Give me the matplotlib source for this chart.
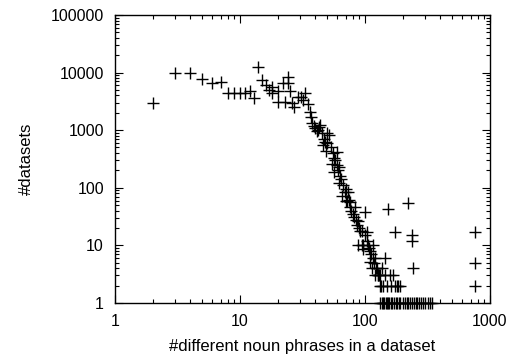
import numpy as np
import matplotlib
matplotlib.use("Agg")
from matplotlib import pyplot as plt
from matplotlib.ticker import LogLocator, NullFormatter, FixedLocator, FixedFormatter

plt.rcParams['font.family'] = ['Liberation Sans', 'DejaVu Sans']

# number of different noun phrases in a dataset -> number of datasets
# plateau part
plateau_x = [2, 3, 4, 5, 6, 7, 8, 9, 10, 11, 12, 13, 14, 15, 16, 17, 18, 18,
             20, 20, 22, 23, 24, 24, 25, 26, 27, 29, 31, 32, 33, 35, 36, 37,
             38, 39, 40]
plateau_y = [3000, 10000, 10000, 7600, 6700, 6900, 4500, 4500, 4500, 4500,
             4700, 3600, 12700, 7400, 6200, 5000, 4500, 5700, 4700, 3100,
             6500, 3100, 8300, 6700, 4700, 3000, 2500, 3800, 3700, 3400,
             4500, 2800, 2100, 1700, 1350, 1200, 1100]
# steep decline
decline_x = [41, 42, 43, 44, 45, 46, 47, 48, 49, 50, 50, 52, 53, 54, 55, 56,
             57, 58, 60, 60, 61, 62, 62, 63, 64, 66, 67, 69, 70, 71, 72, 73,
             74, 76, 76, 78, 80, 82, 83, 85, 86, 88, 88, 90, 92, 95, 95, 97,
             97, 100, 100, 103, 104, 106, 108, 110, 110, 112, 113, 115, 116,
             118, 120, 120]
decline_y = [950, 1000, 1150, 1250, 900, 560, 700, 620, 430, 900, 600, 830,
             500, 260, 400, 330, 190, 300, 420, 250, 200, 230, 120, 160, 140,
             72, 110, 85, 95, 60, 58, 85, 62, 57, 46, 40, 35, 31, 46, 28, 23,
             26, 10, 20, 18, 18, 10, 10, 8.5, 38, 15, 17, 12, 10, 9, 8, 5.2,
             7, 4, 6, 10, 5, 6, 3]
# tail
tail_x = [122, 124, 126, 128, 130, 132, 132, 135, 138, 140, 145, 145, 150,
          153, 158, 160, 167, 173, 173, 180, 185, 190]
tail_y = [4, 4, 3, 3, 3, 2, 3, 2, 4, 2, 6, 3, 2, 42, 3, 2, 3, 2, 17, 2, 2, 2]
# scattered outliers
outlier_x = [220, 237, 237, 240, 760, 760, 760]
outlier_y = [55, 15, 12, 4, 17, 5, 2]
# single-dataset counts along the bottom
single_x = [133, 136, 139, 142, 146, 149, 152, 156, 160, 165, 170, 176, 182,
            186, 192, 200, 208, 215, 222, 228, 236, 245, 255, 262, 270, 280,
            290, 300, 318, 330, 345]
single_y = [1, 1, 1, 1, 1, 1, 1, 1, 1, 1, 1, 1, 1, 1, 1, 1, 1, 1, 1, 1, 1,
            1, 1, 1, 1, 1, 1, 1, 1, 1, 1]

xs = plateau_x + decline_x + tail_x + outlier_x + single_x
ys = plateau_y + decline_y + tail_y + outlier_y + single_y

fig = plt.figure(figsize=(5.12, 3.56), dpi=100)
ax = fig.add_axes([0.2246, 0.149, 0.957 - 0.2246, 0.958 - 0.149])

ax.plot(xs, ys, linestyle='none', marker='+', color='black',
        markersize=9, markeredgewidth=1.0, clip_on=False)

ax.set_xscale('log')
ax.set_yscale('log')
ax.set_xlim(1, 1000)
ax.set_ylim(1, 100000)

xt = [1, 10, 100, 1000]
yt = [1, 10, 100, 1000, 10000, 100000]
ax.xaxis.set_major_locator(FixedLocator(xt))
ax.xaxis.set_major_formatter(FixedFormatter([str(v) for v in xt]))
ax.yaxis.set_major_locator(FixedLocator(yt))
ax.yaxis.set_major_formatter(FixedFormatter([str(v) for v in yt]))
ax.xaxis.set_minor_locator(LogLocator(base=10, subs=np.arange(2, 10)))
ax.yaxis.set_minor_locator(LogLocator(base=10, subs=np.arange(2, 10)))
ax.xaxis.set_minor_formatter(NullFormatter())
ax.yaxis.set_minor_formatter(NullFormatter())

ax.tick_params(which='both', direction='in', top=True, right=True,
               labelsize=11.5, width=0.8, pad=8)
ax.tick_params(which='major', length=6)
ax.tick_params(which='minor', length=3)
for s in ax.spines.values():
    s.set_linewidth(1.0)

ax.set_xlabel('#different noun phrases in a dataset', fontsize=12)
ax.set_ylabel('#datasets', fontsize=12)
ax.xaxis.set_label_coords(0.5, -0.125)
ax.yaxis.set_label_coords(-0.215, 0.5)

fig.savefig('out.png', dpi=100)
